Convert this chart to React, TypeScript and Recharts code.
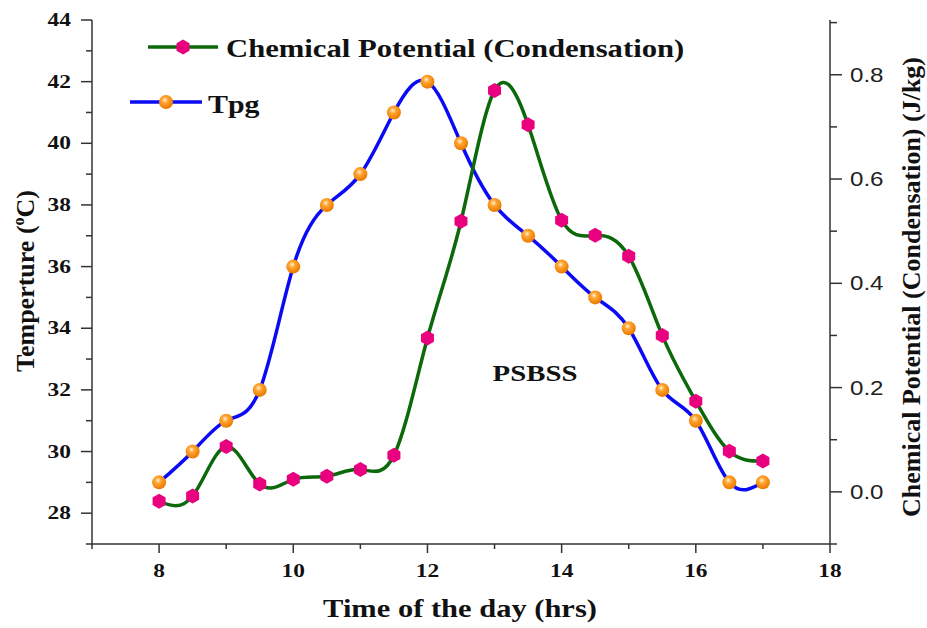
import { Customized, Line, LineChart, XAxis, YAxis } from 'recharts'

const hours = [8, 8.5, 9, 9.5, 10, 10.5, 11, 11.5, 12, 12.5, 13, 13.5, 14, 14.5, 15, 15.5, 16, 16.5, 17]
const tpg = [29, 30, 31, 32, 36, 38, 39, 41, 42, 40, 38, 37, 36, 35, 34, 32, 31, 29, 29]
const chemPotential = [
  -0.018, -0.008, 0.087, 0.015, 0.024, 0.03, 0.043, 0.07, 0.295, 0.519, 0.77,
  0.704, 0.521, 0.492, 0.452, 0.3, 0.174, 0.078, 0.059,
]

const xTicks = [7, 8, 9, 10, 11, 12, 13, 14, 15, 16, 17, 18]
const tempTicks = [27, 28, 29, 30, 31, 32, 33, 34, 35, 36, 37, 38, 39, 40, 41, 42, 43, 44]
const chemTicks = [-0.1, 0, 0.1, 0.2, 0.3, 0.4, 0.5, 0.6, 0.7, 0.8, 0.9]

const COLORS = {
  tpg: '#0a0af5',
  chem: '#0b680b',
  hex: '#e8007f',
  axis: '#333333',
} as const

const SERIF = '"Liberation Serif", "Times New Roman", serif'
const SANS = '"Liberation Sans", Arial, sans-serif'

const rows = hours.map((h, i) => ({ t: h, tpg: tpg[i], chem: chemPotential[i] }))

// plot box, used for the tick drawing only
const PLOT_TOP = 20

const isEven = (v: number) => Math.abs(Math.round(v) % 2) === 0
const isEvenTenth = (v: number) => Math.abs(Math.round(v * 10) % 2) === 0

function BottomTick(props: any) {
  const { x, y, payload } = props
  const major = isEven(payload.value)
  const showLabel = major && payload.value >= 8
  return (
    <g>
      <line x1={x} x2={x} y1={y} y2={y + (major ? 9 : 5)} stroke={COLORS.axis} strokeWidth={1.5} />
      {showLabel && (
        <text
          transform={`translate(${x},${y + 33}) scale(1.2,1)`}
          textAnchor="middle"
          fontFamily={SERIF}
          fontWeight="bold"
          fontSize={19.5}
          fill="#111"
        >
          {payload.value}
        </text>
      )}
    </g>
  )
}

function TopTick(props: any) {
  const { x } = props
  return <line x1={x} x2={x} y1={PLOT_TOP} y2={PLOT_TOP + 6} stroke={COLORS.axis} strokeWidth={1.5} />
}

function LeftTick(props: any) {
  const { x, y, payload } = props
  const major = isEven(payload.value)
  return (
    <g>
      <line x1={x - (major ? 11 : 6)} x2={x} y1={y} y2={y} stroke={COLORS.axis} strokeWidth={1.5} />
      {major && (
        <text
          transform={`translate(${x - 21},${y}) scale(1.3,1)`}
          textAnchor="end"
          dominantBaseline="central"
          fontFamily={SERIF}
          fontWeight="bold"
          fontSize={18}
          fill="#111"
        >
          {payload.value}
        </text>
      )}
    </g>
  )
}

function RightTick(props: any) {
  const { x, y, payload } = props
  const major = isEvenTenth(payload.value)
  const showLabel = major && payload.value >= 0
  return (
    <g>
      <line x1={x} x2={x + (major ? 12 : 7)} y1={y} y2={y} stroke={COLORS.axis} strokeWidth={1.5} />
      {showLabel && (
        <text
          transform={`translate(${x + 20},${y}) scale(1.15,1)`}
          textAnchor="start"
          dominantBaseline="central"
          fontFamily={SANS}
          fontSize={21}
          fill="#222"
        >
          {payload.value.toFixed(1)}
        </text>
      )}
    </g>
  )
}

function hexPoints(cx: number, cy: number, r: number) {
  const pts: string[] = []
  for (let k = 0; k < 6; k++) {
    const a = (Math.PI / 3) * k + Math.PI / 2
    pts.push(`${cx + r * Math.cos(a)},${cy + r * Math.sin(a)}`)
  }
  return pts.join(' ')
}

function HexDot(props: any) {
  const { cx, cy } = props
  if (cx == null || cy == null) return <g />
  return <polygon points={hexPoints(cx, cy, 7.5)} fill={COLORS.hex} />
}

function BallDot(props: any) {
  const { cx, cy } = props
  if (cx == null || cy == null) return <g />
  return <circle cx={cx} cy={cy} r={7} fill="url(#ballGrad)" />
}

function Overlay() {
  return (
    <g>
      <defs>
        <radialGradient id="ballGrad" cx="0.42" cy="0.36" r="0.62">
          <stop offset="0" stopColor="#fff2d8" />
          <stop offset="0.35" stopColor="#ffa530" />
          <stop offset="1" stopColor="#ea7a00" />
        </radialGradient>
      </defs>

      {/* legend */}
      <line x1={148} x2={218} y1={47} y2={47} stroke={COLORS.chem} strokeWidth={3.5} />
      <HexDot cx={183} cy={47} />
      <text
        transform="translate(226,57) scale(1.18,1)"
        fontFamily={SERIF}
        fontWeight="bold"
        fontSize={26}
        fill="#111"
      >
        Chemical Potential (Condensation)
      </text>
      <line x1={130} x2={202} y1={102} y2={102} stroke={COLORS.tpg} strokeWidth={3.5} />
      <BallDot cx={166} cy={102} />
      <text
        transform="translate(208,113) scale(1.15,1)"
        fontFamily={SERIF}
        fontWeight="bold"
        fontSize={26}
        fill="#111"
      >
        Tpg
      </text>

      {/* annotation */}
      <text
        transform="translate(535,381) scale(1.2,1)"
        textAnchor="middle"
        fontFamily={SERIF}
        fontWeight="bold"
        fontSize={24}
        fill="#111"
      >
        PSBSS
      </text>

      {/* axis titles */}
      <text
        transform="translate(460,617) scale(1.22,1)"
        textAnchor="middle"
        fontFamily={SERIF}
        fontWeight="bold"
        fontSize={25}
        fill="#111"
      >
        Time of the day (hrs)
      </text>
      <text
        transform="translate(34,281) rotate(-90)"
        textAnchor="middle"
        fontFamily={SERIF}
        fontWeight="bold"
        fontSize={26}
        fill="#111"
      >
        Temperture (
        <tspan dy={-10} fontSize={16}>
          o
        </tspan>
        <tspan dy={10}>C)</tspan>
      </text>
      <text
        transform="translate(920,287) rotate(-90)"
        textAnchor="middle"
        fontFamily={SERIF}
        fontWeight="bold"
        fontSize={26}
        fill="#111"
      >
        Chemical Potential (Condensation) (J/kg)
      </text>
    </g>
  )
}

export default function App() {
  const axisLine = { stroke: COLORS.axis, strokeWidth: 1.5 }
  return (
    <div style={{ position: 'absolute', left: 0, top: 0, background: '#fff' }}>
      <LineChart width={927} height={628} data={rows} margin={{ top: 20, right: 0, bottom: 0, left: 0 }}>
        <XAxis
          xAxisId="b"
          dataKey="t"
          type="number"
          domain={[7, 18]}
          ticks={xTicks}
          interval={0}
          height={84}
          axisLine={axisLine}
          tickLine={false}
          tickSize={0}
          tickMargin={0}
          tick={<BottomTick />}
        />
        <XAxis
          xAxisId="top"
          orientation="top"
          dataKey="t"
          type="number"
          domain={[7, 18]}
          ticks={xTicks}
          interval={0}
          height={0}
          axisLine={axisLine}
          tickLine={false}
          tickSize={0}
          tickMargin={0}
          tick={<TopTick />}
        />
        <YAxis
          yAxisId="l"
          type="number"
          domain={[27, 44]}
          ticks={tempTicks}
          interval={0}
          width={92}
          axisLine={axisLine}
          tickLine={false}
          tickSize={0}
          tickMargin={0}
          tick={<LeftTick />}
        />
        <YAxis
          yAxisId="r"
          orientation="right"
          type="number"
          domain={[-0.1, 0.905]}
          ticks={chemTicks}
          interval={0}
          width={97}
          axisLine={axisLine}
          tickLine={false}
          tickSize={0}
          tickMargin={0}
          tick={<RightTick />}
        />
        <Line
          xAxisId="b"
          yAxisId="l"
          type="natural"
          dataKey="tpg"
          stroke={COLORS.tpg}
          strokeWidth={3.5}
          dot={(p: any) => <BallDot key={`tpg-${p.index}`} cx={p.cx} cy={p.cy} />}
          activeDot={false}
          isAnimationActive={false}
        />
        <Line
          xAxisId="b"
          yAxisId="r"
          type="natural"
          dataKey="chem"
          stroke={COLORS.chem}
          strokeWidth={3.5}
          dot={(p: any) => <HexDot key={`chem-${p.index}`} cx={p.cx} cy={p.cy} />}
          activeDot={false}
          isAnimationActive={false}
        />
        <Customized component={Overlay} />
      </LineChart>
    </div>
  )
}
